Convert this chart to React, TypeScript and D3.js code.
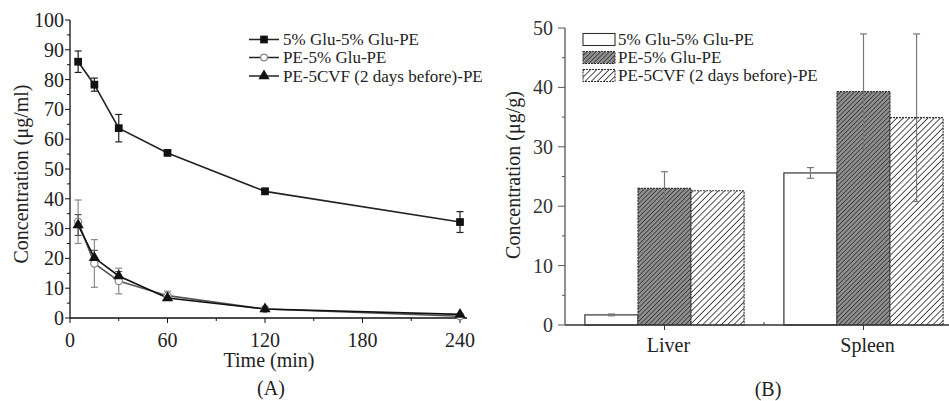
import React, { useEffect, useRef } from "react";
import * as d3 from "d3";

// panel A - plasma concentration vs time
const times = [5, 15, 30, 60, 120, 240];
const gluGlu = [86, 78.3, 63.7, 55.4, 42.5, 32.2];
const gluGluErr = [3.6, 2.2, 4.6, 0.5, 1, 3.5];
const peGlu = [32.3, 18.3, 12.4, 7.5, 3, 0.6];
const peGluErr = [7.3, 8, 4.3, 1.5, 0.5, 0.3];
const peCvf = [31.2, 20.2, 14.1, 6.7, 3, 1.2];
const peCvfErr = [3.5, 2.5, 1.5, 0.8, 0.4, 0.3];
const seriesNames = ["5% Glu-5% Glu-PE", "PE-5% Glu-PE", "PE-5CVF (2 days before)-PE"];
const xTicksA = [0, 60, 120, 180, 240];
const yTicksA = [0, 10, 20, 30, 40, 50, 60, 70, 80, 90, 100];

// panel B - organ concentration
const organs = ["Liver", "Spleen"];
const organGluGlu = [1.7, 25.6];
const organGluGluErr = [0.15, 0.9];
const organPeGlu = [23, 39.3];
const organPeGluErr = [2.8, 9.7];
const organPeCvf = [22.6, 34.9];
const organPeCvfErr = [0, 14.1];
const yTicksB = [0, 10, 20, 30, 40, 50];

const FONT = "'Liberation Serif', 'Times New Roman', serif";

export default function App() {
  const ref = useRef(null);

  useEffect(() => {
    const svg = d3.select(ref.current);
    svg.selectAll("*").remove();

    const defs = svg.append("defs");
    const dense = defs.append("pattern").attr("id", "dense")
      .attr("patternUnits", "userSpaceOnUse").attr("width", 3.2).attr("height", 3.2)
      .attr("patternTransform", "rotate(45)");
    dense.append("rect").attr("width", 3.2).attr("height", 3.2).attr("fill", "#909090");
    dense.append("line").attr("x1", 0).attr("y1", 0).attr("x2", 0).attr("y2", 3.2)
      .attr("stroke", "#2e2e2e").attr("stroke-width", 1.5);
    const hatch = defs.append("pattern").attr("id", "hatch")
      .attr("patternUnits", "userSpaceOnUse").attr("width", 4.4).attr("height", 4.4)
      .attr("patternTransform", "rotate(45)");
    hatch.append("rect").attr("width", 4.4).attr("height", 4.4).attr("fill", "#ffffff");
    hatch.append("line").attr("x1", 0).attr("y1", 0).attr("x2", 0).attr("y2", 4.4)
      .attr("stroke", "#333").attr("stroke-width", 1.7);

    // ---------------- Panel A ----------------
    const xA = d3.scaleLinear().domain([0, 240]).range([70, 460]);
    const yA = d3.scaleLinear().domain([0, 100]).range([318, 20]);
    const gA = svg.append("g");

    gA.append("line").attr("x1", xA(0)).attr("x2", 467).attr("y1", yA(0)).attr("y2", yA(0))
      .attr("stroke", "#111").attr("stroke-width", 1.3);
    gA.append("line").attr("x1", xA(0)).attr("x2", xA(0)).attr("y1", yA(0)).attr("y2", yA(100))
      .attr("stroke", "#111").attr("stroke-width", 1.3);

    d3.range(0, 101, 5).forEach(v => {
      const major = v % 10 === 0;
      gA.append("line").attr("x1", xA(0) - (major ? 5 : 3)).attr("x2", xA(0))
        .attr("y1", yA(v)).attr("y2", yA(v)).attr("stroke", "#111");
    });
    gA.selectAll(".ytA").data(yTicksA).enter().append("text")
      .attr("x", xA(0) - 6).attr("y", d => yA(d) + 7).attr("text-anchor", "end")
      .attr("font-size", 20).attr("font-family", FONT).attr("fill", "#222").text(d => d);
    d3.range(0, 241, 30).forEach(v => {
      const major = v % 60 === 0;
      gA.append("line").attr("x1", xA(v)).attr("x2", xA(v))
        .attr("y1", yA(0)).attr("y2", yA(0) + (major ? 5 : 3)).attr("stroke", "#111");
    });
    gA.selectAll(".xtA").data(xTicksA).enter().append("text")
      .attr("x", d => xA(d)).attr("y", 347).attr("text-anchor", "middle")
      .attr("font-size", 20).attr("font-family", FONT).attr("fill", "#222").text(d => d);

    gA.append("text").attr("x", 269).attr("y", 367).attr("text-anchor", "middle")
      .attr("font-size", 20).attr("font-family", FONT).attr("fill", "#222").text("Time (min)");
    gA.append("text").attr("x", 271).attr("y", 395).attr("text-anchor", "middle")
      .attr("font-size", 20).attr("font-family", FONT).attr("fill", "#222").text("(A)");
    gA.append("text").attr("transform", "translate(28,174) rotate(-90)").attr("text-anchor", "middle")
      .attr("font-size", 20).attr("font-family", FONT).attr("fill", "#222")
      .text("Concentration (\u03bcg/ml)");

    const drawErr = (vals, errs, color) => {
      times.forEach((t, i) => {
        if (!errs[i]) return;
        const x = xA(t), y0 = yA(vals[i] - errs[i]), y1 = yA(vals[i] + errs[i]);
        gA.append("line").attr("x1", x).attr("x2", x).attr("y1", y0).attr("y2", y1)
          .attr("stroke", color).attr("stroke-width", 1.2);
        [y0, y1].forEach(y => gA.append("line").attr("x1", x - 3.5).attr("x2", x + 3.5)
          .attr("y1", y).attr("y2", y).attr("stroke", color).attr("stroke-width", 1.2));
      });
    };
    const line = d3.line().x(d => xA(d[0])).y(d => yA(d[1]));

    drawErr(peGlu, peGluErr, "#8a8a8a");
    drawErr(peCvf, peCvfErr, "#555");
    drawErr(gluGlu, gluGluErr, "#222");

    gA.append("path").attr("d", line(d3.zip(times, peGlu))).attr("fill", "none")
      .attr("stroke", "#555").attr("stroke-width", 1.6);
    gA.append("path").attr("d", line(d3.zip(times, peCvf))).attr("fill", "none")
      .attr("stroke", "#111").attr("stroke-width", 1.6);
    gA.append("path").attr("d", line(d3.zip(times, gluGlu))).attr("fill", "none")
      .attr("stroke", "#222").attr("stroke-width", 1.6);

    const square = d3.symbol().type(d3.symbolSquare).size(60);
    const tri = d3.symbol().type(d3.symbolTriangle).size(55);
    times.forEach((t, i) => {
      gA.append("circle").attr("cx", xA(t)).attr("cy", yA(peGlu[i])).attr("r", 3.6)
        .attr("fill", "#fff").attr("stroke", "#888").attr("stroke-width", 1.2);
      gA.append("path").attr("d", tri()).attr("transform", `translate(${xA(t)},${yA(peCvf[i])})`)
        .attr("fill", "#111");
      gA.append("path").attr("d", square()).attr("transform", `translate(${xA(t)},${yA(gluGlu[i])})`)
        .attr("fill", "#111");
    });

    // legend A
    const legY = [39.5, 57.5, 76];
    seriesNames.forEach((name, i) => {
      const y = legY[i];
      gA.append("line").attr("x1", 249).attr("x2", 279).attr("y1", y).attr("y2", y)
        .attr("stroke", "#222").attr("stroke-width", 1.5);
      if (i === 0) gA.append("path").attr("d", square()).attr("transform", `translate(264,${y})`).attr("fill", "#111");
      if (i === 1) gA.append("circle").attr("cx", 264).attr("cy", y).attr("r", 3.4)
        .attr("fill", "#fff").attr("stroke", "#888").attr("stroke-width", 1.2);
      if (i === 2) gA.append("path").attr("d", tri()).attr("transform", `translate(264,${y})`).attr("fill", "#111");
      gA.append("text").attr("x", 283).attr("y", y + 5.5).attr("font-size", 17)
        .attr("font-family", FONT).attr("fill", "#222").text(name);
    });

    // ---------------- Panel B ----------------
    const yB = d3.scaleLinear().domain([0, 50]).range([325, 28]);
    const xB = d3.scaleBand().domain(organs).range([565, 963]).paddingInner(0.2).paddingOuter(0.1);
    const xSub = d3.scaleBand().domain(seriesNames).range([0, xB.bandwidth()]);
    const gB = svg.append("g");

    const fills = ["#ffffff", "url(#dense)", "url(#hatch)"];
    const vals = [organGluGlu, organPeGlu, organPeCvf];
    const errs = [organGluGluErr, organPeGluErr, organPeCvfErr];

    organs.forEach((o, oi) => {
      seriesNames.forEach((s, si) => {
        const x = xB(o) + xSub(s), v = vals[si][oi];
        gB.append("rect").attr("x", x).attr("y", yB(v)).attr("width", xSub.bandwidth())
          .attr("height", yB(0) - yB(v)).attr("fill", fills[si])
          .attr("stroke", "#333").attr("stroke-width", 1.2)
          .attr("stroke-dasharray", si === 0 ? null : "2,1");
      });
    });
    organs.forEach((o, oi) => {
      seriesNames.forEach((s, si) => {
        const e = errs[si][oi];
        if (!e) return;
        const cx = xB(o) + xSub(s) + xSub.bandwidth() / 2, v = vals[si][oi];
        const y0 = yB(v - e), y1 = yB(v + e);
        gB.append("line").attr("x1", cx).attr("x2", cx).attr("y1", y0).attr("y2", y1)
          .attr("stroke", "#777").attr("stroke-width", 1.2);
        [y0, y1].forEach(y => gB.append("line").attr("x1", cx - 3.5).attr("x2", cx + 3.5)
          .attr("y1", y).attr("y2", y).attr("stroke", "#777").attr("stroke-width", 1.2));
      });
    });

    gB.append("line").attr("x1", 565).attr("x2", 949).attr("y1", yB(0)).attr("y2", yB(0))
      .attr("stroke", "#333").attr("stroke-width", 1.3);
    gB.append("line").attr("x1", 565).attr("x2", 565).attr("y1", yB(0)).attr("y2", yB(50))
      .attr("stroke", "#555").attr("stroke-width", 1.3);
    d3.range(0, 51, 5).forEach(v => {
      const major = v % 10 === 0;
      gB.append("line").attr("x1", 565 - (major ? 7 : 3)).attr("x2", 565)
        .attr("y1", yB(v)).attr("y2", yB(v)).attr("stroke", "#555");
    });
    gB.selectAll(".ytB").data(yTicksB).enter().append("text")
      .attr("x", 553).attr("y", d => yB(d) + 7).attr("text-anchor", "end")
      .attr("font-size", 20).attr("font-family", FONT).attr("fill", "#333").text(d => d);
    organs.forEach(o => {
      const cx = xB(o) + xB.bandwidth() / 2;
      gB.append("line").attr("x1", cx).attr("x2", cx).attr("y1", yB(0)).attr("y2", yB(0) + 5)
        .attr("stroke", "#333");
      gB.append("text").attr("x", cx + 4).attr("y", 352).attr("text-anchor", "middle")
        .attr("font-size", 20).attr("font-family", FONT).attr("fill", "#222").text(o);
    });
    const midX = (xB("Liver") + xB("Spleen")) / 2 + xB.bandwidth() / 2;
    gB.append("line").attr("x1", midX).attr("x2", midX).attr("y1", yB(0)).attr("y2", yB(0) - 3)
      .attr("stroke", "#333");

    gB.append("text").attr("x", 768).attr("y", 396).attr("text-anchor", "middle")
      .attr("font-size", 20).attr("font-family", FONT).attr("fill", "#222").text("(B)");
    gB.append("text").attr("transform", "translate(520,175) rotate(-90)").attr("text-anchor", "middle")
      .attr("font-size", 20).attr("font-family", FONT).attr("fill", "#222")
      .text("Concentration (\u03bcg/g)");

    // legend B
    const legYB = [39.5, 57.5, 75.5];
    seriesNames.forEach((name, i) => {
      const y = legYB[i];
      gB.append("rect").attr("x", 583).attr("y", y - 6).attr("width", 32).attr("height", 12)
        .attr("fill", fills[i]).attr("stroke", "#333").attr("stroke-width", 1.1)
        .attr("stroke-dasharray", i === 0 ? null : "2,1");
      gB.append("text").attr("x", 618).attr("y", y + 5.5).attr("font-size", 17)
        .attr("font-family", FONT).attr("fill", "#222").text(name);
    });
  }, []);

  return (
    <svg ref={ref} width={949} height={401}
      style={{ position: "absolute", left: 0, top: 0, background: "#fff" }} />
  );
}
